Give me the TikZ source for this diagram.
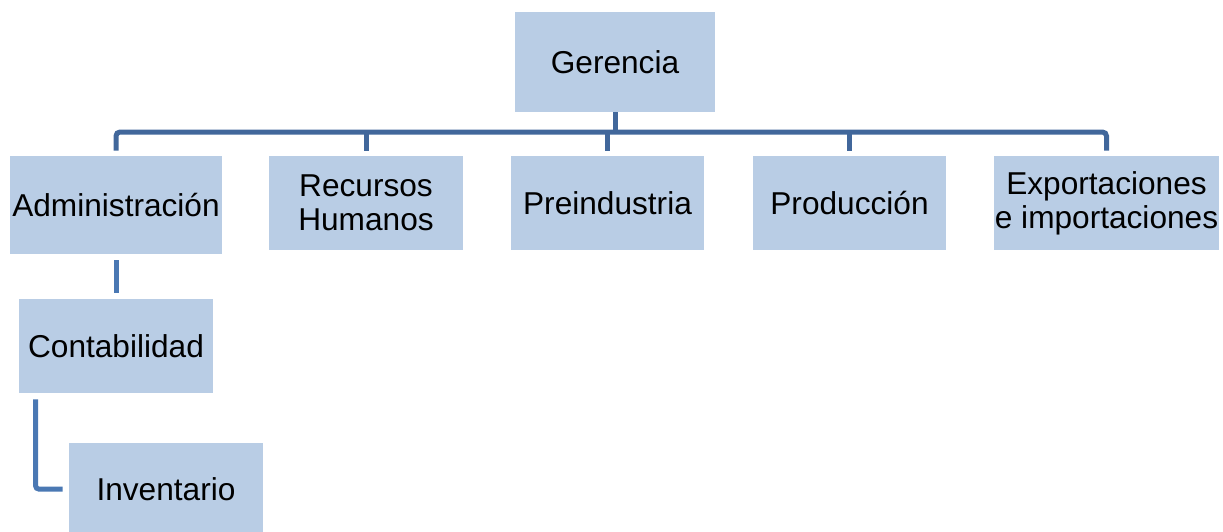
\documentclass[tikz,border=0pt]{standalone}
\usepackage{fontspec}
\setmainfont{Liberation Sans}
\definecolor{boxfill}{HTML}{B9CDE5}
\definecolor{topline}{HTML}{41679B}
\definecolor{lowline}{HTML}{4A78B3}

\begin{document}
\begin{tikzpicture}[x=0.02cm, y=-0.02cm,
		unit/.style={fill=boxfill, inner sep=0pt, align=center, font=\fontsize{18}{19.5}\selectfont},
		link/.style={draw=topline, line width=0.1cm},
		sublink/.style={draw=lowline, line width=0.1cm}]
		
		\clip (0,0) rectangle (1223,531);
		
		\node (v0) at (615,62) [unit, minimum width=4cm, minimum height=2cm] {Gerencia};
		\node (v1) at (116,205) [unit, minimum width=4.24cm, minimum height=1.96cm] {Administración};
		\node (v2) at (366,203) [unit, minimum width=3.88cm, minimum height=1.88cm] {Recursos\\Humanos};
		\node (v3) at (607.5,203) [unit, minimum width=3.86cm, minimum height=1.88cm] {Preindustria};
		\node (v4) at (849.5,203) [unit, minimum width=3.86cm, minimum height=1.88cm] {Producción};
		\node (v5) at (1106.5,203) [unit, minimum width=4.5cm, minimum height=1.88cm] {Exportaciones\\e importaciones};
		\node (v6) at (116,346) [unit, minimum width=3.88cm, minimum height=1.88cm] {Contabilidad};
		\node (v7) at (166,489) [unit, minimum width=3.88cm, minimum height=1.84cm] {Inventario};
		
		\coordinate (bus) at (615,132);
		\draw[link] (v0.south) -- (bus);
		\draw[link, rounded corners=0.08cm, shorten <=0.1cm, shorten >=0.1cm]
		(v1.north) |- (bus) -| (v5.north);
		\draw[link, shorten <=0.1cm] (v2.north) -- (v2.north |- bus);
		\draw[link, shorten <=0.1cm] (v3.north) -- (v3.north |- bus);
		\draw[link, shorten <=0.1cm] (v4.north) -- (v4.north |- bus);
		
		\draw[sublink, shorten <=0.12cm, shorten >=0.12cm] (v1.south) -- (v6.north);
		\draw[sublink, rounded corners=0.06cm, shorten >=0.12cm]
		(v6.south west) ++(17,6) |- (v7.west);
	\end{tikzpicture}
\end{document}
